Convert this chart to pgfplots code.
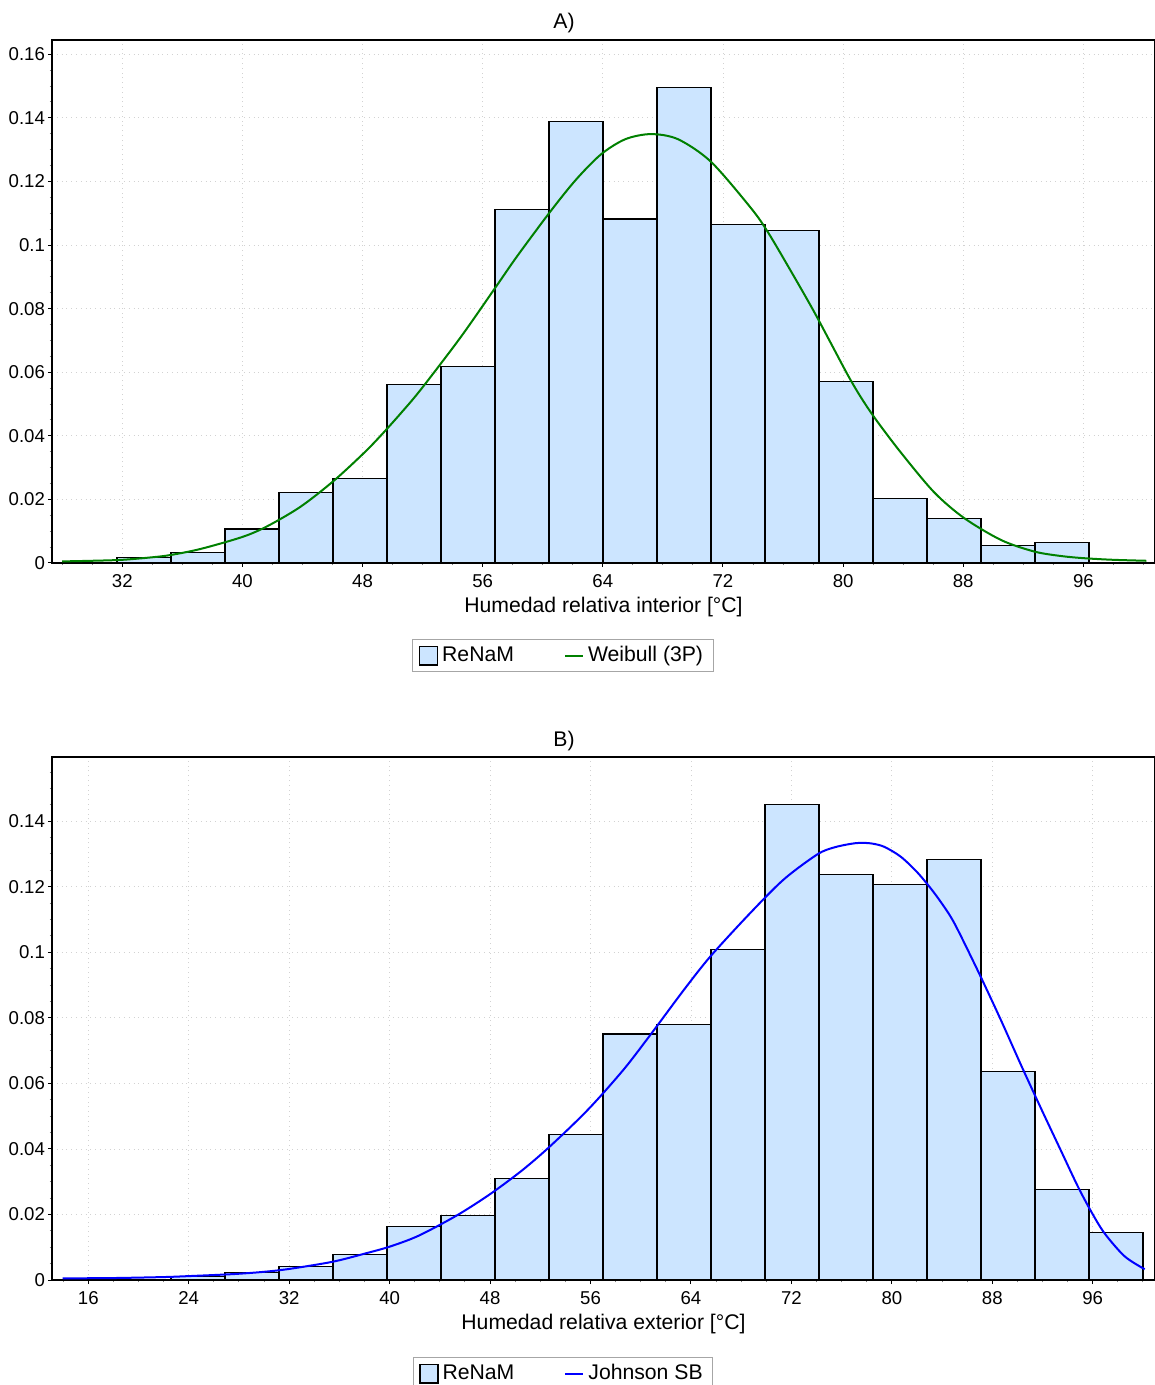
\documentclass[border=0pt]{standalone}
\usepackage{fontspec}
\setmainfont{Liberation Sans}
\usepackage{pgfplots}
\pgfplotsset{compat=1.18}
\definecolor{barblue}{RGB}{204,229,255}
\definecolor{wgreen}{RGB}{0,128,0}
\definecolor{jblue}{RGB}{0,0,255}
\pgfplotsset{
  common/.style={
    scale only axis, width=551.5pt, height=261.5pt,
    axis line style={line width=0.8pt},
    tick align=outside,
    xtick pos=left, ytick pos=left,
    major tick length=2pt, minor tick length=1.2pt,
    every tick/.style={black, line width=0.5pt},
    minor tick style={gray, line width=0.5pt},
    grid=major, major grid style={dotted, gray!35, line width=0.4pt},
    /pgf/number format/assume math mode=true,
    ticklabel style={font=\fontsize{9.3}{11}\selectfont},
    yticklabel style={/pgf/number format/fixed, /pgf/number format/precision=3, xshift=2pt},
    scaled y ticks=false,
    label style={font=\fontsize{10.6}{12.7}\selectfont},
    title style={font=\fontsize{10.6}{12.7}\selectfont, at={(axis description cs:0.4642,1)}, anchor=base, yshift=-0.5pt},
    xlabel style={at={(axis description cs:0.5,-0.0937)}, anchor=base},
    legend style={font=\fontsize{10.6}{12.7}\selectfont, draw=gray!70, line width=0.5pt,
      anchor=north, at={(0.4633,-0.1453)}, legend columns=2, inner ysep=1.5pt, inner xsep=3pt,
      /tikz/column 2/.style={column sep=23pt}},
    ymin=0,
  },
  barimg/.style={legend image code/.code={\draw[fill=barblue,draw=black,line width=0.6pt] (0pt,-4.7pt) rectangle (9pt,4.7pt);}},
  lineimg/.style={legend image code/.code={\draw[##1, line width=1pt] (0pt,0pt) -- (9pt,0pt);}},
}
\begin{document}
\begin{tikzpicture}
\useasboundingbox (-26pt,-411pt) rectangle (551.5pt,281.5pt);
\begin{axis}[common,
  title={A)},
  xlabel={Humedad relativa interior [°C]},
  xmin=27.32, xmax=100.77, ymax=0.1645,
  xtick={32,40,48,56,64,72,80,88,96},
  minor xtick={28,30,...,100},
  ytick={0,0.02,0.04,0.06,0.08,0.1,0.12,0.14,0.16},
  minor ytick={0.005,0.01,0.015,0.025,0.03,0.035,0.045,0.05,0.055,0.065,0.07,0.075,0.085,0.09,0.095,0.105,0.11,0.115,0.125,0.13,0.135,0.145,0.15,0.155},
]
\addplot[ybar interval, fill=barblue, draw=black, line width=0.6pt, barimg] coordinates {
(31.647,0.0018) (35.243,0.0032) (38.839,0.0107) (42.435,0.0221) (46.031,0.0265)
(49.627,0.0562) (53.223,0.0617) (56.819,0.1113) (60.415,0.1388) (64.011,0.1082)
(67.607,0.1495) (71.203,0.1065) (74.799,0.1047) (78.395,0.0572) (81.991,0.0203)
(85.587,0.0140) (89.183,0.0054) (92.779,0.0064) (96.375,0.0064)};
\addlegendentry{ReNaM}
\addplot[wgreen, line width=1pt, smooth, tension=0.5, lineimg] coordinates {
(28.0,0.0005) (30,0.0007) (32,0.0010) (34,0.0018) (35.2,0.0025) (37.2,0.0044)
(40,0.0082) (41.67,0.0116) (43.87,0.0177) (46.07,0.0258) (48.07,0.0345) (49.2,0.0400)
(50.53,0.0470) (51.87,0.0545) (54.53,0.0710) (56.87,0.0868) (58.31,0.0966)
(60.53,0.1107) (62.2,0.1205) (63.87,0.1285) (65.5,0.1333) (67.2,0.1349) (69.0,0.1333)
(71.2,0.1262) (73.87,0.1116) (75.0,0.1040) (76.5,0.0920) (78.0,0.0796) (79.2,0.0690)
(80.35,0.0588) (81.2,0.0520) (82.2,0.0450) (83.87,0.0346) (86.07,0.0222) (88.07,0.0141)
(90.53,0.0072) (92.73,0.0036) (94.5,0.0022) (96.07,0.0015) (98,0.001) (100.2,0.0007)};
\addlegendentry{Weibull (3P)}
\end{axis}
\begin{axis}[common, at={(0pt,-358.5pt)}, anchor=south west,
  title={B)},
  xlabel={Humedad relativa exterior [°C]},
  xmin=13.11, xmax=100.96, ymax=0.1596,
  legend style={at={(0.4633,-0.1472)}},
  xtick={16,24,32,40,48,56,64,72,80,88,96},
  minor xtick={14,16,...,100},
  ytick={0,0.02,0.04,0.06,0.08,0.1,0.12,0.14},
  minor ytick={0.005,0.01,0.015,0.025,0.03,0.035,0.045,0.05,0.055,0.065,0.07,0.075,0.085,0.09,0.095,0.105,0.11,0.115,0.125,0.13,0.135,0.145,0.15,0.155},
]
\addplot[ybar interval, fill=barblue, draw=black, line width=0.6pt, barimg] coordinates {
(22.587,0.0010) (26.888,0.0022) (31.189,0.0041) (35.490,0.0078) (39.791,0.0163)
(44.093,0.0197) (48.394,0.0309) (52.695,0.0445) (56.996,0.0751) (61.297,0.0779)
(65.598,0.1009) (69.899,0.1452) (74.200,0.1238) (78.501,0.1208) (82.802,0.1284)
(87.104,0.0637) (91.405,0.0277) (95.706,0.0145) (100.007,0.0145)};
\addlegendentry{ReNaM}
\addplot[jblue, line width=1pt, smooth, tension=0.5, lineimg] coordinates {
(13.95,0.0005) (18,0.0006) (22,0.0009) (24.06,0.0012) (27.52,0.0018) (30,0.0025)
(32.04,0.0034) (35.5,0.0056) (38.16,0.0082) (40.02,0.0102) (42.3,0.0135) (45.35,0.0197)
(48.0,0.0262) (50.4,0.0330) (52.2,0.0388) (54.0,0.0452) (55.6,0.0512) (57.05,0.0572)
(58.91,0.0655) (61.04,0.0762) (63.43,0.0885) (65.56,0.0988) (68.75,0.1121) (71.41,0.1223)
(74.07,0.1299) (75.4,0.1320) (76.73,0.1331) (77.5,0.1334) (78.4,0.1332) (79.39,0.1322)
(80.7,0.1292) (82.05,0.1243) (83.4,0.1180) (84.63,0.1112) (85.43,0.1055) (87.02,0.0930)
(88.7,0.0792) (90.3,0.0655) (91.9,0.0522) (93.5,0.0392) (94.82,0.0285) (95.89,0.0208)
(96.95,0.0142) (98.55,0.0072) (100.14,0.0033)};
\addlegendentry{Johnson SB}
\end{axis}
\end{tikzpicture}
\end{document}
